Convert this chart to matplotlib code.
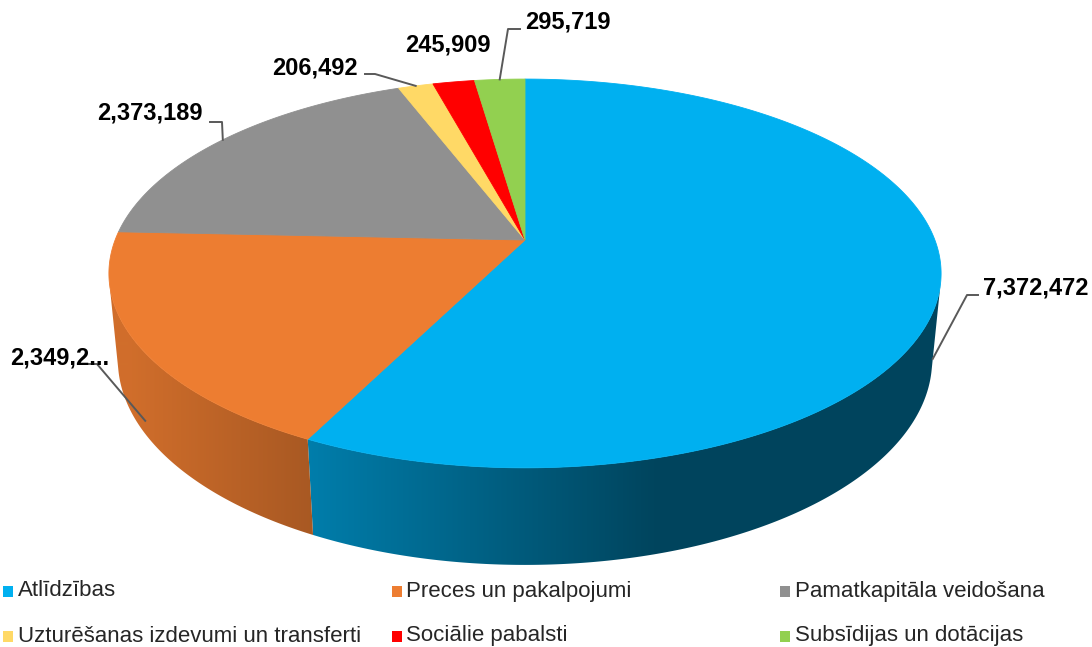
"""
3D pie of expenditure by economic category
"""

import numpy as np
import matplotlib.pyplot as plt
from matplotlib.patches import Polygon, Rectangle
from matplotlib.colors import to_rgb


categories = [
    "Atlīdzības",
    "Preces un pakalpojumi",
    "Pamatkapitāla veidošana",
    "Uzturēšanas izdevumi un transferti",
    "Sociālie pabalsti",
    "Subsīdijas un dotācijas",
]
values = [7372472, 2349250, 2373189, 206492, 245909, 295719]
colors = ["#00B0F0", "#ED7D31", "#909090", "#FFD966", "#FF0000", "#92D050"]

# where the value labels go (pixels, left edge / vertical centre)
label_pos = [(983, 288), (10, 358), (97, 113), (272, 68), (405, 45), (525, 22)]
leader_pts = [
    [(967, 295), (978, 295)],
    [(97, 364), (86, 364)],
    [(222, 122), (210, 122)],
    [(375, 74), (365, 74)],
    None,
    [(508, 29), (520, 29)],
]
anchor_z = [-0.2, -0.2, 0, 0, 0, 0]

W, H = 1092, 647
CX, CY = 525, 240
ELEV = np.radians(27.4)
DIST = 5.16
FOC = 2115
THICK = 0.24
FONT = "Liberation Sans"


def project(x, y, z):
    c, s = np.cos(ELEV), np.sin(ELEV)
    d = DIST + y * c - z * s
    return CX + FOC * x / d, CY - FOC * (y * s + z * c) / d


def rim(t, z):
    # t = angle clockwise from the far side of the disk
    return project(np.sin(t), np.cos(t), z)


def shade(px):
    return np.clip(1.0 - 0.00093 * px, 0.39, 0.88)


fig = plt.figure(figsize=(W / 100, H / 100), dpi=100)
ax = fig.add_axes([0, 0, 1, 1])

fracs = np.array(values) / sum(values)
edges = np.concatenate([[0], np.cumsum(fracs)]) * 2 * np.pi
front_a = np.arccos(-1 / (DIST * np.cos(ELEV)))
front_b = 2 * np.pi - front_a

# side walls: horizontal gradient clipped to the visible part of each slice
xs = np.arange(W) + 0.5
for i, col in enumerate(colors):
    t0, t1 = max(edges[i], front_a), min(edges[i + 1], front_b)
    if t1 <= t0:
        continue
    ts = np.linspace(t0, t1, 200)
    pts = [rim(t, 0) for t in ts] + [rim(t, -THICK) for t in ts[::-1]]
    poly = Polygon(pts, closed=True, transform=ax.transData)
    grad = np.array(to_rgb(col))[None, None, :] * shade(xs)[None, :, None]
    im = ax.imshow(grad, extent=(0, W, H, 0), aspect="auto", interpolation="bilinear")
    im.set_clip_path(poly)

# top face
for i, col in enumerate(colors):
    t0, t1 = edges[i], edges[i + 1]
    ts = np.linspace(t0, t1, max(4, int(np.degrees(t1 - t0) * 2)))
    pts = [project(0, 0, 0)] + [rim(t, 0) for t in ts]
    ax.add_patch(Polygon(pts, closed=True, facecolor=col, edgecolor=col, lw=0.6))

# value labels with leader lines
for i, v in enumerate(values):
    txt = f"{v:,}"
    if i == 1:
        txt = txt[:7] + "..."
    x, y = label_pos[i]
    ax.text(x, y, txt, fontsize=17, fontweight="bold", family=FONT,
            ha="left", va="center", color="black")
    if leader_pts[i] is not None:
        m = (edges[i] + edges[i + 1]) / 2
        p = [rim(m, anchor_z[i])] + leader_pts[i]
        ax.plot([q[0] for q in p], [q[1] for q in p], color="#595959", lw=1.4)

# legend, three columns in rows
for i, (lab, col) in enumerate(zip(categories, colors)):
    x = 3 + (i % 3) * 388.5
    y = 591 + (i // 3) * 45
    ax.add_patch(Rectangle((x, y - 5.5), 10, 11, facecolor=col, edgecolor="none"))
    ax.text(x + 15, y, lab, fontsize=16, family=FONT, ha="left", va="center",
            color="#262626")

ax.set_xlim(0, W)
ax.set_ylim(H, 0)
ax.axis("off")

plt.savefig("out.png", dpi=100)
